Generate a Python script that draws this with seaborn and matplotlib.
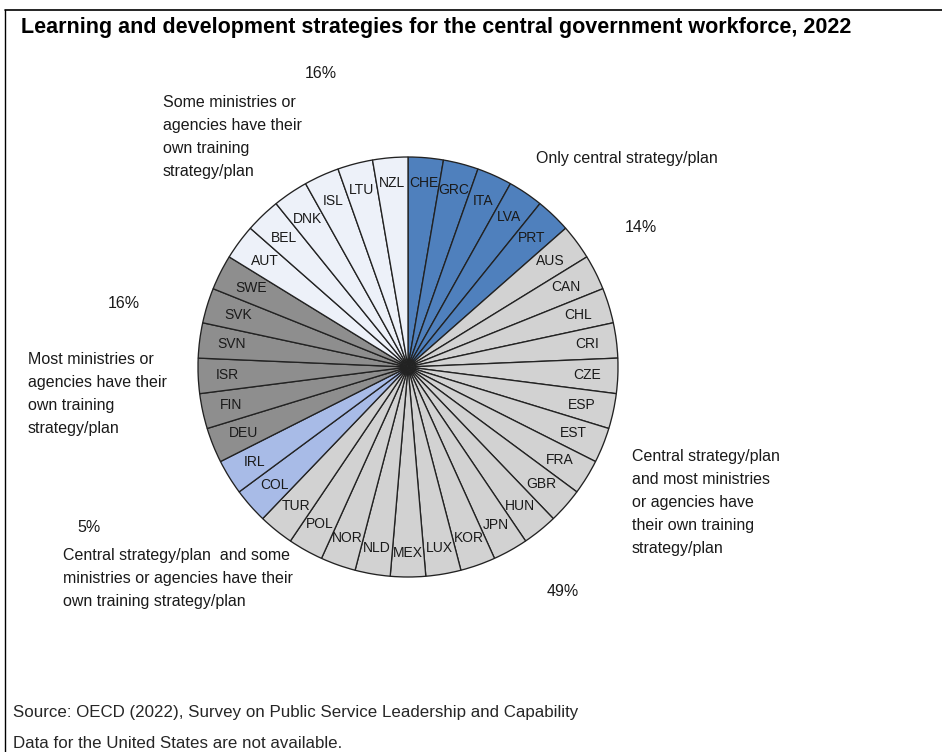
import numpy as np
import matplotlib
matplotlib.use("Agg")
import matplotlib.pyplot as plt
from matplotlib import font_manager
import seaborn as sns

# Countries in clockwise order from 12 o'clock, with their strategy group
countries = ["CHE", "GRC", "ITA", "LVA", "PRT",
             "AUS", "CAN", "CHL", "CRI", "CZE", "ESP", "EST", "FRA", "GBR",
             "HUN", "JPN", "KOR", "LUX", "MEX", "NLD", "NOR", "POL", "TUR",
             "COL", "IRL",
             "DEU", "FIN", "ISR", "SVN", "SVK", "SWE",
             "AUT", "BEL", "DNK", "ISL", "LTU", "NZL"]
groups = (["central"] * 5 + ["central_most"] * 18 + ["central_some"] * 2
          + ["most"] * 6 + ["some"] * 6)
# one slice per country
weights = [1] * len(countries)

group_keys = ["central", "central_most", "central_some", "most", "some"]
group_names = {
    "central": "Only central strategy/plan",
    "central_most": "Central strategy/plan\nand most ministries\nor agencies have\ntheir own training\nstrategy/plan",
    "central_some": "Central strategy/plan  and some\nministries or agencies have their\nown training strategy/plan",
    "most": "Most ministries or\nagencies have their\nown training\nstrategy/plan",
    "some": "Some ministries or\nagencies have their\nown training\nstrategy/plan",
}
group_colors = {
    "central": "#4F80BD",
    "central_most": "#D2D2D2",
    "central_some": "#A8BBE7",
    "most": "#8E8E8E",
    "some": "#EDF1F9",
}

title = "Learning and development strategies for the central government workforce, 2022"
source = "Source: OECD (2022), Survey on Public Service Leadership and Capability"
note = "Data for the United States are not available."

sns.set_theme(style="white")
plt.rcParams["font.family"] = ["Liberation Sans", "DejaVu Sans"]

# condensed face for the annotations when available
installed = {f.name for f in font_manager.fontManager.ttflist}
if "Liberation Sans Narrow" in installed:
    narrow = ["Liberation Sans Narrow", "Liberation Sans"]
    label_fs, source_fs, lsp = 14.0, 14.6, 1.16
else:
    narrow = ["Liberation Sans", "DejaVu Sans"]
    label_fs, source_fs, lsp = 11.5, 12.2, 1.66

W, H = 942, 752
fig = plt.figure(figsize=(W / 100, H / 100), dpi=100)


def fx(px):
    return px / W


def fy(py):
    return 1 - py / H


# frame lines (top and left)
fig.add_artist(plt.Line2D([fx(5), 1], [fy(10), fy(10)], color="black", lw=1.2))
fig.add_artist(plt.Line2D([fx(5), fx(5)], [fy(10), 0], color="black", lw=1.0))

fig.text(fx(21), fy(28), title, fontsize=15.5, fontweight="bold",
         ha="left", va="center", color="black")

# pie axes: centre (408, 367), radius 210 px
cx, cy, R = 408, 367, 210
ax = fig.add_axes([fx(cx - R), fy(cy + R), 2 * R / W, 2 * R / H])
colors = [group_colors[g] for g in groups]
wedges, _ = ax.pie(weights, colors=colors, startangle=90, counterclock=False,
                   radius=1, wedgeprops=dict(edgecolor="#222222", linewidth=0.95))
ax.set_xlim(-1, 1)
ax.set_ylim(-1, 1)
ax.set_aspect("equal")
ax.axis("off")

# country labels inside the rim, each box pushed against the outer edge
fig.canvas.draw()
renderer = fig.canvas.get_renderer()
inv = ax.transData.inverted()
for w, name in zip(wedges, countries):
    ang = np.deg2rad((w.theta1 + w.theta2) / 2)
    c, s = np.cos(ang), np.sin(ang)
    t = ax.text(0, 0, name, fontsize=10, ha="center", va="center",
                color="#1a1a1a")
    bb = t.get_window_extent(renderer).transformed(inv)
    hw, hh = bb.width / 2, bb.height / 2
    r = 0.92 - (hw * abs(c) + hh * abs(s))
    t.set_position((r * c, r * s))

# group shares
counts = {g: groups.count(g) for g in group_keys}
total = len(countries)
pct = {g: f"{round(100 * counts[g] / total)}%" for g in group_keys}

# (pct centre x, y), (name left x, first-line centre y)
layout = {
    "some": ((321, 73), (163, 101)),
    "central": ((641, 228), (536, 157)),
    "most": ((124, 303), (28, 358)),
    "central_most": ((563, 592), (632, 455)),
    "central_some": ((89, 527), (63, 554)),
}
for g in group_keys:
    (px, py), (nx, ny) = layout[g]
    fig.text(fx(px), fy(py), pct[g], fontsize=label_fs, ha="center",
             va="center", color="#1a1a1a", family=narrow)
    fig.text(fx(nx), fy(ny - 6), group_names[g], fontsize=label_fs, ha="left",
             va="top", linespacing=lsp, color="#1a1a1a", family=narrow)

fig.text(fx(13), fy(713), source, fontsize=source_fs, ha="left", va="center",
         family=narrow)
fig.text(fx(13), fy(744), note, fontsize=source_fs, ha="left", va="center",
         family=narrow)

fig.savefig("out.png", dpi=100, facecolor="white")
